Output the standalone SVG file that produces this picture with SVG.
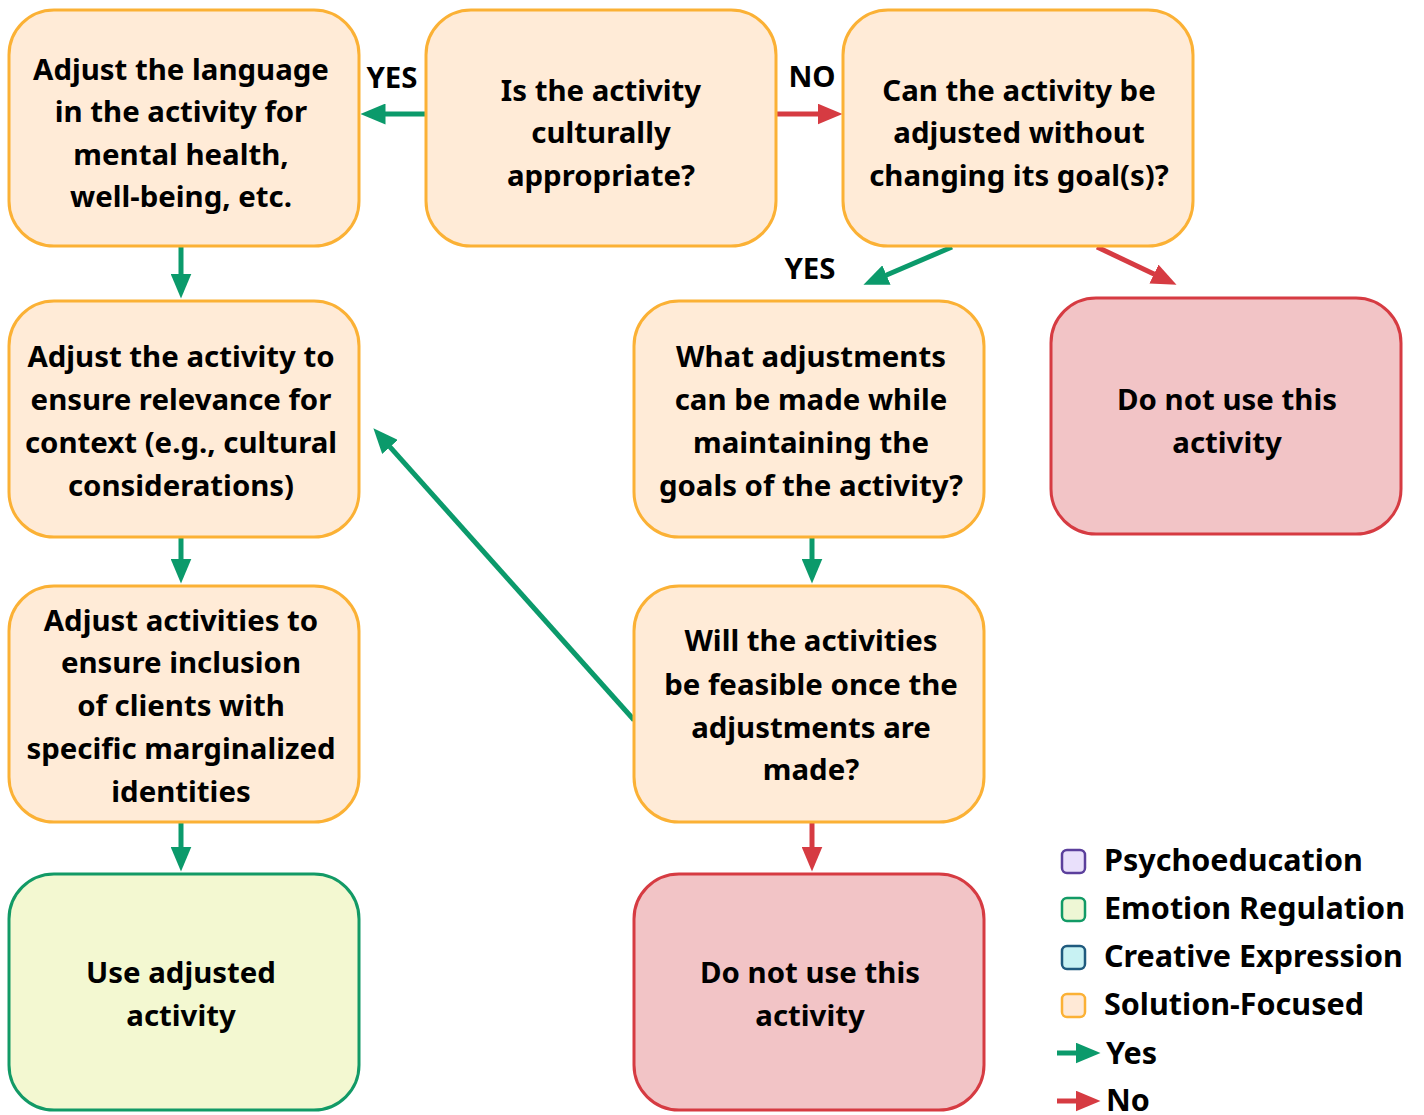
<svg xmlns="http://www.w3.org/2000/svg" width="1424" height="1115" viewBox="0 0 1424 1115">
<defs>
<style>
text{font-family:"Noto Sans","Open Sans","DejaVu Sans",sans-serif;font-weight:bold;font-size:29.4px;fill:#000;}
.c{text-anchor:middle;}
.sf{fill:#ffebd7;stroke:#fbb135;stroke-width:3;}
.no{fill:#f2c4c6;stroke:#d63b42;stroke-width:3;}
.use{fill:#f3f8d1;stroke:#129a66;stroke-width:3;}
.y{stroke:#0b9a6b;stroke-width:5;fill:none;marker-end:url(#ay);}
.n{stroke:#d63b42;stroke-width:5;fill:none;marker-end:url(#an);}
.lt{font-size:30.5px;}
</style>
<marker id="ay" viewBox="0 0 25 21" refX="0.5" refY="10.5" markerWidth="25" markerHeight="21" markerUnits="userSpaceOnUse" orient="auto"><path d="M0,0L25,10.5L0,21z" fill="#0b9a6b"/></marker>
<marker id="an" viewBox="0 0 25 21" refX="0.5" refY="10.5" markerWidth="25" markerHeight="21" markerUnits="userSpaceOnUse" orient="auto"><path d="M0,0L25,10.5L0,21z" fill="#d63b42"/></marker>
</defs>
<rect width="1424" height="1115" fill="#fff"/>
<g id="connectors">
<line class="y" x1="426" y1="114" x2="385" y2="114"/>
<line class="n" x1="776" y1="114" x2="818" y2="114"/>
<line class="y" x1="181" y1="247" x2="181" y2="274"/>
<line class="y" x1="952" y1="247" x2="886" y2="275.2"/>
<line class="n" x1="1097" y1="247" x2="1154.4" y2="274.3"/>
<line class="y" x1="181" y1="538" x2="181" y2="559"/>
<line class="y" x1="812" y1="538" x2="812" y2="559"/>
<line class="y" x1="634" y1="720" x2="389.7" y2="446.6"/>
<line class="n" x1="812" y1="823" x2="812" y2="847"/>
<line class="y" x1="181" y1="823" x2="181" y2="847"/>
<text x="392" y="88" class="c">YES</text>
<text x="812" y="87" class="c">NO</text>
<text x="810" y="279" class="c">YES</text>
</g>
<g id="n1"><rect class="sf" x="9" y="10" width="350" height="236" rx="45"/>
<text class="c" x="181" y="80">Adjust the language</text>
<text class="c" x="181" y="122">in the activity for</text>
<text class="c" x="181" y="165">mental health,</text>
<text class="c" x="181" y="207">well-being, etc.</text></g>
<g id="n2"><rect class="sf" x="426" y="10" width="350" height="236" rx="45"/>
<text class="c" x="601" y="101">Is the activity</text>
<text class="c" x="601" y="143">culturally</text>
<text class="c" x="601" y="186">appropriate?</text></g>
<g id="n3"><rect class="sf" x="843" y="10" width="350" height="236" rx="45"/>
<text class="c" x="1019" y="101">Can the activity be</text>
<text class="c" x="1019" y="143">adjusted without</text>
<text class="c" x="1019" y="186">changing its goal(s)?</text></g>
<g id="n4"><rect class="sf" x="9" y="301" width="350" height="236" rx="45"/>
<text class="c" x="181" y="367">Adjust the activity to</text>
<text class="c" x="181" y="410">ensure relevance for</text>
<text class="c" x="181" y="453">context (e.g., cultural</text>
<text class="c" x="181" y="496">considerations)</text></g>
<g id="n5"><rect class="sf" x="634" y="301" width="350" height="236" rx="45"/>
<text class="c" x="811" y="367">What adjustments</text>
<text class="c" x="811" y="410">can be made while</text>
<text class="c" x="811" y="453">maintaining the</text>
<text class="c" x="811" y="496">goals of the activity?</text></g>
<g id="n6"><rect class="no" x="1051" y="298" width="350" height="236" rx="45"/>
<text class="c" x="1227" y="410">Do not use this</text>
<text class="c" x="1227" y="453">activity</text></g>
<g id="n7"><rect class="sf" x="9" y="586" width="350" height="236" rx="45"/>
<text class="c" x="181" y="631">Adjust activities to</text>
<text class="c" x="181" y="673">ensure inclusion</text>
<text class="c" x="181" y="716">of clients with</text>
<text class="c" x="181" y="759">specific marginalized</text>
<text class="c" x="181" y="802">identities</text></g>
<g id="n8"><rect class="sf" x="634" y="586" width="350" height="236" rx="45"/>
<text class="c" x="811" y="651">Will the activities</text>
<text class="c" x="811" y="695">be feasible once the</text>
<text class="c" x="811" y="738">adjustments are</text>
<text class="c" x="811" y="780">made?</text></g>
<g id="n9"><rect class="use" x="9" y="874" width="350" height="236" rx="45"/>
<text class="c" x="181" y="983">Use adjusted</text>
<text class="c" x="181" y="1026">activity</text></g>
<g id="n10"><rect class="no" x="634" y="874" width="350" height="236" rx="45"/>
<text class="c" x="810" y="983">Do not use this</text>
<text class="c" x="810" y="1026">activity</text></g>
<g id="legend">
<rect x="1062" y="850" width="23" height="23" rx="5" fill="#e9e0fb" stroke="#5b3f9c" stroke-width="2.5"/>
<text class="lt" x="1104" y="871">Psychoeducation</text>
<rect x="1062" y="898" width="23" height="23" rx="5" fill="#eef7d5" stroke="#129a66" stroke-width="2.5"/>
<text class="lt" x="1104" y="919">Emotion Regulation</text>
<rect x="1062" y="946" width="23" height="23" rx="5" fill="#c8f2f3" stroke="#1f5a7e" stroke-width="2.5"/>
<text class="lt" x="1104" y="967">Creative Expression</text>
<rect x="1062" y="994" width="23" height="23" rx="5" fill="#ffe9d6" stroke="#fbb135" stroke-width="2.5"/>
<text class="lt" x="1104" y="1015">Solution-Focused</text>
<line class="y" x1="1057" y1="1053" x2="1076" y2="1053"/>
<text class="lt" x="1106" y="1064">Yes</text>
<line class="n" x1="1057" y1="1101" x2="1076" y2="1101"/>
<text class="lt" x="1106" y="1111">No</text>
</g>
</svg>
